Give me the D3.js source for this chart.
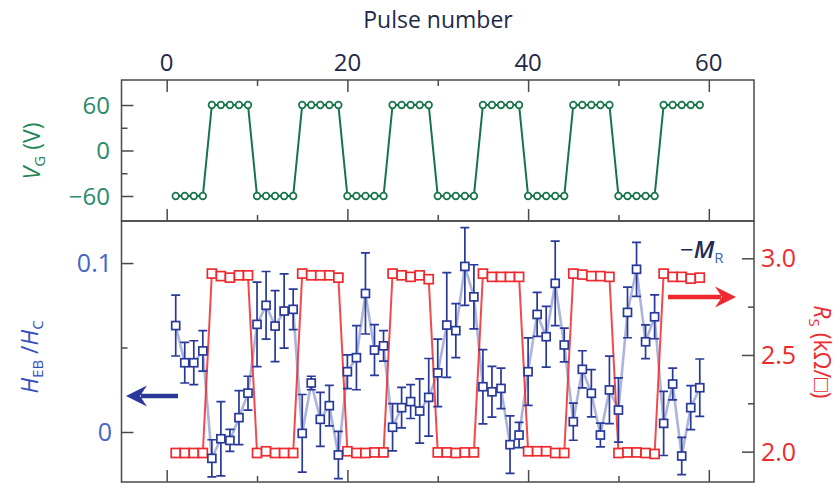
<!DOCTYPE html>
<html>
<head>
<meta charset="utf-8">
<script src="https://cdn.jsdelivr.net/npm/d3@7/dist/d3.min.js"></script>
<style>
  html, body { margin: 0; padding: 0; background: #fff; }
  svg { display: block; font-family: "Open Sans", "Noto Sans", sans-serif; }
</style>
</head>
<body>
<svg id="chart" width="840" height="493"></svg>
<script>
// Pulse index shared by all three series
const pulses = d3.range(1, 60);

// Gate voltage V_G (V) applied at each pulse
const gateVoltage = [
  -60, -60, -60, -60,
  60, 60, 60, 60, 60,
  -60, -60, -60, -60, -60,
  60, 60, 60, 60, 60,
  -60, -60, -60, -60, -60,
  60, 60, 60, 60, 60,
  -60, -60, -60, -60, -60,
  60, 60, 60, 60, 60,
  -60, -60, -60, -60, -60,
  60, 60, 60, 60, 60,
  -60, -60, -60, -60, -60,
  60, 60, 60, 60, 60
];

// Exchange-bias ratio H_EB / H_C and its error
const hebRatio = [
  0.063, 0.041, 0.041, 0.048,
  -0.0156, -0.004, -0.005, 0.0085, 0.023,
  0.0637, 0.075, 0.0627, 0.0716, 0.0726,
  -0.0008, 0.029, 0.0075, 0.0156, -0.0136,
  0.0357, 0.044, 0.082, 0.0485, 0.051,
  0.0028, 0.0144, 0.018, 0.0124, 0.0205,
  0.035, 0.0633, 0.060, 0.098, 0.080,
  0.0268, 0.0238, 0.0258, -0.0075, -0.0018,
  0.0357, 0.0696, 0.0564, 0.088, 0.0515,
  0.0061, 0.0371, 0.0229, -0.0018, 0.0249,
  0.013, 0.0708, 0.0963, 0.0534, 0.0682,
  0.0051, 0.0284, -0.0142, 0.0144, 0.0262
];
const hebError = [
  0.018, 0.012, 0.013, 0.012,
  0.011, 0.022, 0.0065, 0.016, 0.010,
  0.025, 0.020, 0.021, 0.022, 0.012,
  0.023, 0.004, 0.016, 0.012, 0.014,
  0.010, 0.019, 0.024, 0.015, 0.009,
  0.014, 0.012, 0.010, 0.019, 0.023,
  0.020, 0.031, 0.016, 0.023, 0.019,
  0.022, 0.015, 0.012, 0.017, 0.0075,
  0.020, 0.013, 0.018, 0.025, 0.010,
  0.011, 0.011, 0.014, 0.007, 0.020,
  0.019, 0.015, 0.016, 0.010, 0.013,
  0.019, 0.0094, 0.011, 0.013, 0.017
];

// Sheet resistance R_S (kOhm per square)
const sheetResistance = [
  1.993, 1.993, 1.993, 1.993,
  2.921, 2.908, 2.900, 2.912, 2.912,
  1.993, 2.002, 1.993, 1.993, 1.993,
  2.921, 2.912, 2.912, 2.912, 2.900,
  2.002, 1.993, 1.993, 1.996, 1.996,
  2.921, 2.912, 2.904, 2.912, 2.892,
  1.996, 1.996, 1.993, 1.996, 1.996,
  2.921, 2.904, 2.904, 2.904, 2.904,
  2.002, 2.002, 2.002, 1.993, 1.993,
  2.921, 2.916, 2.908, 2.908, 2.904,
  1.993, 1.996, 1.996, 1.993, 1.988,
  2.921, 2.904, 2.904, 2.895, 2.900
];

// Tick values
const pulseTicks = [0, 10, 20, 30, 40, 50, 60];
const pulseLabels = [0, 20, 40, 60];
const vgTicks = [-60, -30, 0, 30, 60];
const vgLabels = [-60, 0, 60];
const hebTicks = [0, 0.05, 0.1];
const hebLabels = [0, 0.1];
const rsTicks = [2.0, 2.25, 2.5, 2.75, 3.0];
const rsLabels = [2.0, 2.5, 3.0];

const GREEN = "#17744a", BLUE = "#28399a", RED = "#ee2a2e";
const FRAME = "#4a4a4a";

const svg = d3.select("#chart");

const left = 121.5, right = 754, topY = 80, midY = 221, botY = 482;

const x = d3.scaleLinear().domain([-5, 65]).range([left, right]);
const yV = d3.scaleLinear().domain([-93, 93]).range([midY, topY]);
const yH = d3.scaleLinear().domain([-0.0296, 0.1249]).range([botY, midY]);
const yR = d3.scaleLinear().domain([1.843, 3.193]).range([botY, midY]);

const fmt = d => (d === 0 ? "0" : d < 0 ? "\u2212" + Math.abs(d) : String(d));

// ---------- axes ----------
function tickLen(v, majors) { return majors.includes(v) ? 12 : 6; }

function drawTicks(gen, transform, majors, dir) {
  const g = svg.append("g").attr("transform", transform).call(gen);
  g.select(".domain").remove();
  g.selectAll(".tick text").remove();
  g.selectAll(".tick line")
    .attr("stroke", FRAME).attr("stroke-width", 1.5)
    .each(function(d) {
      const len = tickLen(d, majors);
      const ln = d3.select(this);
      if (dir === "down") ln.attr("y2", len);
      if (dir === "up") ln.attr("y2", -len);
      if (dir === "right") ln.attr("x2", len);
      if (dir === "left") ln.attr("x2", -len);
    });
  return g;
}

drawTicks(d3.axisTop(x).tickValues(pulseTicks).tickSize(0), `translate(0,${topY})`, pulseLabels, "down");
drawTicks(d3.axisBottom(x).tickValues(pulseTicks).tickSize(0), `translate(0,${midY})`, pulseLabels, "up");
drawTicks(d3.axisBottom(x).tickValues(pulseTicks).tickSize(0), `translate(0,${botY})`, pulseLabels, "up");
drawTicks(d3.axisLeft(yV).tickValues(vgTicks).tickSize(0), `translate(${left},0)`, vgLabels, "right");
drawTicks(d3.axisLeft(yH).tickValues(hebTicks).tickSize(0), `translate(${left},0)`, hebLabels, "right");
drawTicks(d3.axisRight(yR).tickValues(rsTicks).tickSize(0), `translate(${right},0)`, rsLabels, "left");

// frames
svg.append("rect").attr("x", left).attr("y", topY).attr("width", right - left).attr("height", midY - topY)
  .attr("fill", "none").attr("stroke", FRAME).attr("stroke-width", 1.5);
svg.append("rect").attr("x", left).attr("y", midY).attr("width", right - left).attr("height", botY - midY)
  .attr("fill", "none").attr("stroke", FRAME).attr("stroke-width", 1.5);

// tick labels
svg.append("g").selectAll("text").data(pulseLabels).join("text")
  .attr("x", d => x(d)).attr("y", 71).attr("text-anchor", "middle")
  .attr("font-size", 24).attr("fill", "#1f2a48").text(d => d);

svg.append("g").selectAll("text").data(vgLabels).join("text")
  .attr("x", 110).attr("y", d => yV(d)).attr("dy", "0.36em").attr("text-anchor", "end")
  .attr("font-size", 24).attr("fill", "#2a8a6c").text(fmt);

svg.append("g").selectAll("text").data(hebLabels).join("text")
  .attr("x", 112).attr("y", d => yH(d)).attr("dy", "0.36em").attr("text-anchor", "end")
  .attr("font-size", 25).attr("fill", "#4565c8").text(d => d);

svg.append("g").selectAll("text").data(rsLabels).join("text")
  .attr("x", 761).attr("y", d => yR(d)).attr("dy", "0.36em").attr("text-anchor", "start")
  .attr("font-size", 25).attr("fill", RED).text(d => d.toFixed(1));

// axis titles
svg.append("text").attr("x", 438).attr("y", 28).attr("text-anchor", "middle")
  .attr("font-size", 23).attr("fill", "#1f2a48").text("Pulse number");

function richText(tx, ty, rot, color, parts) {
  const t = svg.append("text")
    .attr("transform", `translate(${tx},${ty}) rotate(${rot})`)
    .attr("text-anchor", "middle").attr("font-size", 23).attr("fill", color);
  parts.forEach(p => {
    const s = t.append("tspan").text(p.t);
    if (p.i) s.attr("font-style", "italic");
    if (p.sub) s.attr("font-size", 15).attr("dy", 5);
    if (p.back) s.attr("dy", -5);
  });
  return t;
}

richText(40, 151, -90, "#1f8556", [
  {t: "V", i: true}, {t: "G", sub: true}, {t: " (V)", back: true}
]);
richText(38, 357, -90, "#3550bd", [
  {t: "H", i: true}, {t: "EB", sub: true}, {t: " /", back: true},
  {t: "H", i: true}, {t: "C", sub: true}
]);
richText(814, 352, 90, RED, [
  {t: "R", i: true}, {t: "S", sub: true}, {t: " (k\u03A9/\u25A1)", back: true}
]);

// -M_R annotation
{
  const t = svg.append("text").attr("x", 680).attr("y", 258)
    .attr("font-size", 24).attr("fill", "#1f2a55");
  t.append("tspan").text("\u2212");
  t.append("tspan").attr("font-style", "italic").attr("font-weight", 600).text("M");
  t.append("tspan").attr("font-size", 15).attr("dy", 5).attr("fill", "#3a62c0").text("R");
}

// ---------- top panel: gate voltage ----------
const vgData = pulses.map((p, i) => ({p, v: gateVoltage[i]}));
svg.append("path").datum(vgData)
  .attr("fill", "none").attr("stroke", GREEN).attr("stroke-width", 2)
  .attr("d", d3.line().x(d => x(d.p)).y(d => yV(d.v)));
svg.append("g").selectAll("circle").data(vgData).join("circle")
  .attr("cx", d => x(d.p)).attr("cy", d => yV(d.v)).attr("r", 3.3)
  .attr("fill", "#fff").attr("stroke", GREEN).attr("stroke-width", 1.7);

// ---------- bottom panel ----------
const hData = pulses.map((p, i) => ({p, v: hebRatio[i], e: hebError[i]}));
const rData = pulses.map((p, i) => ({p, v: sheetResistance[i]}));

// faint connecting line for H_EB/H_C
svg.append("path").datum(hData)
  .attr("fill", "none").attr("stroke", "#4758b0").attr("stroke-opacity", 0.45).attr("stroke-width", 2.6)
  .attr("d", d3.line().x(d => x(d.p)).y(d => yH(d.v)));

// R_S line and markers
svg.append("path").datum(rData)
  .attr("fill", "none").attr("stroke", RED).attr("stroke-opacity", 0.85).attr("stroke-width", 2)
  .attr("d", d3.line().x(d => x(d.p)).y(d => yR(d.v)));
svg.append("g").selectAll("rect").data(rData).join("rect")
  .attr("x", d => x(d.p) - 4.5).attr("y", d => yR(d.v) - 4.5).attr("width", 9).attr("height", 9)
  .attr("fill", "#fff").attr("stroke", RED).attr("stroke-width", 1.7);

// error bars
const eb = svg.append("g").attr("stroke", BLUE).attr("stroke-width", 1.7).attr("fill", "none");
eb.selectAll("path").data(hData).join("path")
  .attr("d", d => {
    const cx = x(d.p), y1 = yH(d.v + d.e), y2 = yH(d.v - d.e), w = 4.5;
    return `M${cx},${y1}V${y2}M${cx - w},${y1}H${cx + w}M${cx - w},${y2}H${cx + w}`;
  });

svg.append("g").selectAll("rect").data(hData).join("rect")
  .attr("x", d => x(d.p) - 4).attr("y", d => yH(d.v) - 4).attr("width", 8).attr("height", 8)
  .attr("fill", "#fff").attr("stroke", BLUE).attr("stroke-width", 1.7);

// direction arrows
function arrow(x0, x1, yy, color) {
  const dir = Math.sign(x1 - x0), head = 21, hw = 10.5;
  svg.append("line").attr("x1", x0).attr("x2", x1 - dir * (head - 6)).attr("y1", yy).attr("y2", yy)
    .attr("stroke", color).attr("stroke-width", 4.5);
  svg.append("path").attr("fill", color)
    .attr("d", `M${x1},${yy}L${x1 - dir * head},${yy - hw}L${x1 - dir * (head - 7)},${yy}L${x1 - dir * head},${yy + hw}Z`);
}
arrow(178, 126, 396, BLUE);
arrow(668, 736, 297, RED);
</script>
</body>
</html>
